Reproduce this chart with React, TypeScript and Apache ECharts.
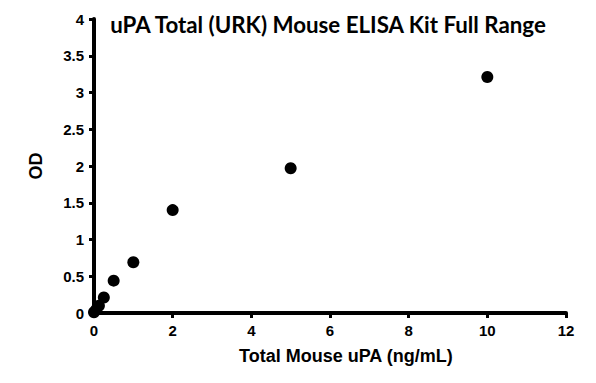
import React, { useEffect, useRef } from "react";
import * as echarts from "echarts";

const concentrations = [10, 5, 2, 1, 0.5, 0.25, 0.125, 0.0625, 0];
const odValues = [3.21, 1.97, 1.4, 0.69, 0.44, 0.21, 0.1, 0.05, 0.01];
const titleText = "uPA Total (URK) Mouse ELISA Kit Full Range";
const xName = "Total Mouse uPA (ng/mL)";
const yName = "OD";

export default function App() {
  const ref = useRef<HTMLDivElement>(null);
  useEffect(() => {
    if (!ref.current) return;
    const chart = echarts.init(ref.current, null, { renderer: "svg" });
    const labelStyle = {
      color: "#000",
      fontFamily: "Liberation Sans",
      fontWeight: "bold",
      fontSize: 15,
    };
    const tickStyle = { color: "#000", width: 3 };
    chart.setOption({
      animation: false,
      backgroundColor: "#fff",
      title: {
        text: titleText,
        left: 323,
        top: 8,
        textAlign: "center",
        textStyle: {
          fontFamily: "Lato",
          fontWeight: "bold",
          fontSize: 22.3,
          color: "#000",
        },
      },
      graphic: [
        {
          type: "text",
          left: 351 - 112,
          top: 347,
          style: {
            text: xName,
            fill: "#000",
            font: "bold 18px 'Liberation Sans'",
          },
        },
      ],
      grid: { left: 94, right: 30, top: 19, bottom: 70, containLabel: false },
      xAxis: {
        type: "value",
        min: 0,
        max: 12,
        interval: 2,
        axisLine: { show: true, onZero: false, lineStyle: { color: "#000000", width: 4, opacity: 1, type: "solid" } },
        axisTick: { show: true, inside: false, length: 5, lineStyle: tickStyle },
        splitLine: { show: false },
        axisLabel: { ...labelStyle, margin: 10 },
      },
      yAxis: {
        type: "value",
        min: 0,
        max: 4,
        interval: 0.5,
        name: yName,
        nameLocation: "middle",
        nameGap: 49,
        nameTextStyle: { ...labelStyle, fontSize: 18 },
        axisLine: { show: true, onZero: false, lineStyle: { color: "#000000", width: 4, opacity: 1, type: "solid" } },
        axisTick: { show: true, inside: false, length: 5, lineStyle: tickStyle },
        splitLine: { show: false },
        axisLabel: { ...labelStyle, margin: 10 },
      },
      series: [
        {
          type: "scatter",
          data: concentrations.map((c, i) => [c, odValues[i]]),
          symbol: "circle",
          symbolSize: 12,
          clip: false,
          itemStyle: { color: "#000", opacity: 1 },
          z: 5,
        },
      ],
    });
    return () => chart.dispose();
  }, []);
  return <div ref={ref} style={{ width: 596, height: 383, position: "absolute", left: 0, top: 0 }} />;
}
